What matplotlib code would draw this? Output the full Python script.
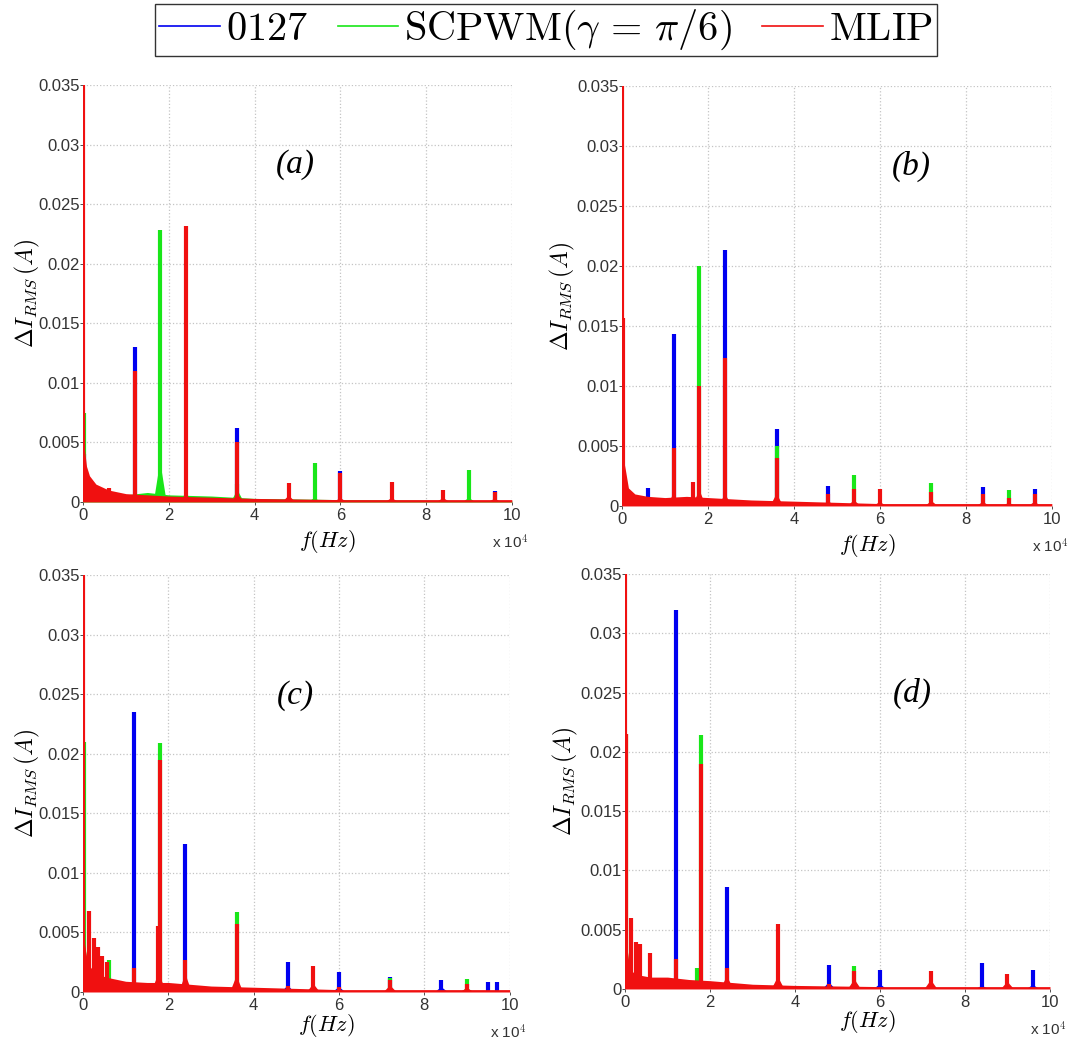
import matplotlib
matplotlib.use('Agg')
import matplotlib.pyplot as plt
from matplotlib.lines import Line2D

plt.rcParams['mathtext.fontset'] = 'cm'
plt.rcParams['font.family'] = ['Liberation Sans', 'DejaVu Sans']

SERIES = [r'$\mathrm{0127}$', r'$\mathrm{SCPWM}(\gamma\,=\,\pi/6)$', r'$\mathrm{MLIP}$']
COLORS = ['#0000f0', '#19e619', '#f01010']
PANELS = ['(a)', '(b)', '(c)', '(d)']

# peaks: (frequency Hz, peak value A, skirt value A)
A_0127 = [(150, 0.004, 0.002), (12000, 0.013, 0.0), (36000, 0.0062, 0.0),
          (60000, 0.0026, 0.0), (96000, 0.0009, 0.0)]
A_SCPWM = [(200, 0.0075, 0.004), (18000, 0.0228, 0.005), (36000, 0.0015, 0.0015),
           (54000, 0.0033, 0.0005), (90000, 0.0027, 0.0005), (24000, 0.0006, 0.0)]
A_MLIP = [(100, 0.035, 0.006), (6000, 0.0012, 0.0), (12000, 0.011, 0.0008),
          (24000, 0.0232, 0.001), (36000, 0.005, 0.001), (48000, 0.0016, 0.0008),
          (60000, 0.0024, 0.0005), (72000, 0.0017, 0.0005), (84000, 0.001, 0.0005),
          (96000, 0.0008, 0.0004)]

B_0127 = [(100, 0.004, 0.0), (6000, 0.0015, 0.0), (12000, 0.0143, 0.0),
          (24000, 0.0213, 0.0), (36000, 0.0064, 0.0), (48000, 0.0017, 0.0),
          (84000, 0.0016, 0.0), (96000, 0.0014, 0.0)]
B_SCPWM = [(100, 0.004, 0.001), (18000, 0.020, 0.0), (36000, 0.005, 0.0),
           (54000, 0.0026, 0.0), (72000, 0.0019, 0.0), (90000, 0.0013, 0.0)]
B_MLIP = [(100, 0.035, 0.004), (300, 0.0157, 0.003), (12000, 0.0048, 0.0015),
          (16500, 0.002, 0.0), (18000, 0.010, 0.002), (24000, 0.0123, 0.0015),
          (36000, 0.004, 0.0015), (48000, 0.001, 0.0006), (54000, 0.0014, 0.0007),
          (60000, 0.0014, 0.0005), (72000, 0.0012, 0.0006), (84000, 0.001, 0.0005),
          (90000, 0.0007, 0.0004), (96000, 0.001, 0.0005)]

C_0127 = [(12000, 0.0235, 0.0), (24000, 0.0124, 0.0), (48000, 0.0025, 0.0008),
          (60000, 0.0017, 0.0006), (72000, 0.0013, 0.0005), (84000, 0.001, 0.0006),
          (95000, 0.0008, 0.0), (97000, 0.0008, 0.0)]
C_SCPWM = [(150, 0.021, 0.008), (6000, 0.0027, 0.0), (18000, 0.0209, 0.0015),
           (36000, 0.0067, 0.001), (72000, 0.0012, 0.0), (90000, 0.0011, 0.0005)]
C_MLIP = [(100, 0.035, 0.008), (1500, 0.0068, 0.0), (2500, 0.0045, 0.0),
          (3500, 0.0038, 0.0), (4500, 0.003, 0.0), (5500, 0.0025, 0.0),
          (12000, 0.002, 0.0012), (17500, 0.0055, 0.002), (18000, 0.0195, 0.002),
          (24000, 0.0027, 0.0022), (36000, 0.0057, 0.002), (48000, 0.0005, 0.0003),
          (54000, 0.0022, 0.001), (60000, 0.0004, 0.0003), (72000, 0.001, 0.0008),
          (90000, 0.0007, 0.0005)]

D_0127 = [(1000, 0.0007, 0.0), (12000, 0.032, 0.0), (24000, 0.0086, 0.001),
          (48000, 0.002, 0.0008), (60000, 0.0016, 0.0006), (84000, 0.0022, 0.0004),
          (96000, 0.0016, 0.0005)]
D_SCPWM = [(150, 0.0215, 0.007), (17000, 0.0018, 0.0012), (18000, 0.0214, 0.0012),
           (54000, 0.0019, 0.001)]
D_MLIP = [(100, 0.035, 0.006), (300, 0.0215, 0.005), (1500, 0.006, 0.0),
          (2500, 0.004, 0.0), (3500, 0.0038, 0.0), (6000, 0.003, 0.0),
          (12000, 0.0025, 0.0015), (18000, 0.019, 0.0012), (24000, 0.0018, 0.0016),
          (36000, 0.0055, 0.0015), (48000, 0.0004, 0.0003), (54000, 0.0015, 0.0012),
          (72000, 0.0015, 0.0011), (90000, 0.0013, 0.0009)]

# broadband floor of the spectra
FLOOR_F = [0, 300, 800, 1500, 3000, 6000, 10000, 15000, 20000, 30000, 40000, 60000, 100000]
A_FLOOR_SCPWM = [0.0075, 0.004, 0.0025, 0.0018, 0.0012, 0.0008, 0.0006, 0.0008,
                 0.0006, 0.0005, 0.0003, 0.0002, 0.0001]
A_FLOOR_MLIP = [0.006, 0.0045, 0.003, 0.0022, 0.0015, 0.001, 0.0007, 0.0006,
                0.0005, 0.0004, 0.0003, 0.0002, 0.0002]
B_FLOOR_MLIP = [0.005, 0.004, 0.003, 0.0015, 0.001, 0.0008, 0.0007, 0.0008,
                0.0007, 0.0005, 0.0004, 0.0002, 0.0002]
C_FLOOR_MLIP = [0.008, 0.004, 0.003, 0.0022, 0.0015, 0.0012, 0.0009, 0.0008,
                0.0008, 0.0005, 0.0004, 0.0002, 0.0002]
D_FLOOR_MLIP = [0.006, 0.004, 0.0025, 0.0015, 0.0012, 0.001, 0.001, 0.0008,
                0.0007, 0.0004, 0.0003, 0.0002, 0.0002]

panel_peaks = [[A_0127, A_SCPWM, A_MLIP], [B_0127, B_SCPWM, B_MLIP],
               [C_0127, C_SCPWM, C_MLIP], [D_0127, D_SCPWM, D_MLIP]]
panel_floors = [[None, A_FLOOR_SCPWM, A_FLOOR_MLIP], [None, None, B_FLOOR_MLIP],
                [None, None, C_FLOOR_MLIP], [None, None, D_FLOOR_MLIP]]

X_TICKS = [0, 20000, 40000, 60000, 80000, 100000]
X_TICKLABELS = ['0', '2', '4', '6', '8', '10']
Y_TICKS = [0, 0.005, 0.01, 0.015, 0.02, 0.025, 0.03, 0.035]
Y_TICKLABELS = ['0', '0.005', '0.01', '0.015', '0.02', '0.025', '0.03', '0.035']

# axes rectangles (fig fraction) and panel-label positions
rects = [[0.0769, 0.5187, 0.397, 0.3998], [0.5759, 0.5149, 0.398, 0.4027],
         [0.0769, 0.0489, 0.395, 0.3998], [0.5787, 0.0518, 0.3935, 0.3979]]
label_pos = [(49500, 0.0283), (67400, 0.0283), (49700, 0.0249), (67500, 0.0249)]
xlabel_y = [-0.062, -0.062, -0.047, -0.047]
ylabel_x = [-0.096, -0.104, -0.096, -0.106]

fig = plt.figure(figsize=(10.8, 10.43), dpi=100)

for i in range(4):
    ax = fig.add_axes(rects[i])
    for k in range(3):
        c = COLORS[k]
        if panel_floors[i][k] is not None:
            ax.fill_between(FLOOR_F, 0, panel_floors[i][k], color=c, lw=0, zorder=2 + k)
        for f, h, s in panel_peaks[i][k]:
            if s > 0:
                ax.fill([f - 1500, f - 400, f, f + 400, f + 1500],
                        [0, s * 0.5, s, s * 0.5, 0], color=c, lw=0, zorder=2 + k)
            ax.plot([f, f], [0, h], color=c, lw=3.0, solid_capstyle='butt', zorder=2 + k)
    ax.set_xlim(0, 100000)
    ax.set_ylim(0, 0.035)
    ax.set_xticks(X_TICKS)
    ax.set_xticklabels(X_TICKLABELS)
    ax.set_yticks(Y_TICKS)
    ax.set_yticklabels(Y_TICKLABELS)
    ax.tick_params(labelsize=12, colors='#333333', length=2, width=0.6)
    ax.tick_params(axis='y', pad=0.5)
    ax.tick_params(axis='x', pad=2.5)
    for sp in ax.spines.values():
        sp.set_visible(False)
    ax.grid(True, ls=':', color='#c4c4c4', lw=0.9)
    ax.set_axisbelow(True)
    ax.set_xlabel(r'$f(Hz)$', fontsize=16)
    ax.xaxis.set_label_coords(0.57, xlabel_y[i])
    ax.set_ylabel(r'$\Delta I_{RMS}\,(A)$', fontsize=17)
    ax.yaxis.set_label_coords(ylabel_x[i], 0.5)
    ax.text(1.04, -0.076, r'x 10$^4$', transform=ax.transAxes, ha='right', va='top',
            fontsize=11, color='#333333')
    ax.text(label_pos[i][0], label_pos[i][1], PANELS[i], ha='center', va='center',
            fontsize=24, style='italic', family='Liberation Serif')

handles = [Line2D([], [], color=COLORS[k], lw=1.2) for k in range(3)]
leg = fig.legend(handles, SERIES, loc='center', bbox_to_anchor=(0.5056, 0.971), ncol=3,
                 prop={'size': 29}, frameon=True, fancybox=False,
                 edgecolor='black', handlelength=1.5, handletextpad=0.15,
                 columnspacing=0.75, borderpad=0.1, borderaxespad=0)
leg.get_frame().set_linewidth(1.0)

fig.savefig('out.png', dpi=100)
